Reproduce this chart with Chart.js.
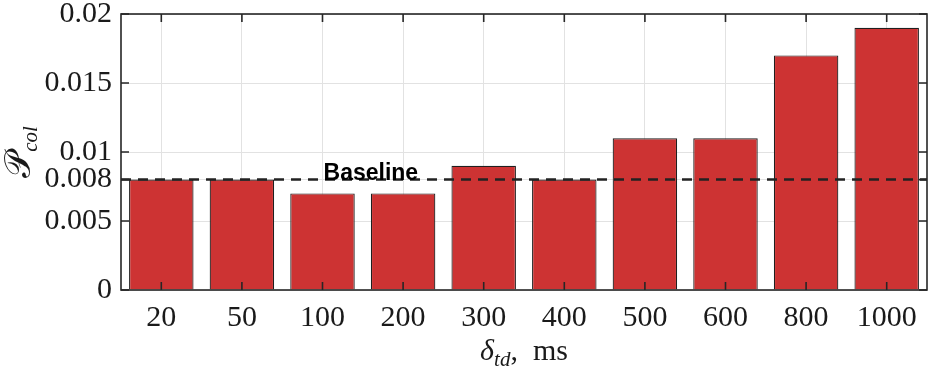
<!DOCTYPE html>
<html>
<head>
<meta charset="utf-8">
<script src="https://cdn.jsdelivr.net/npm/chart.js@4/dist/chart.umd.min.js"></script>
<style>
  html, body { margin: 0; padding: 0; background: #fff; }
  #wrap { width: 937px; height: 367px; }
</style>
</head>
<body>
<div id="wrap"><canvas id="myChart" width="937" height="367"></canvas></div>
<script>
// ---- data
const categories = ['20', '50', '100', '200', '300', '400', '500', '600', '800', '1000'];
const pCol = [0.008, 0.008, 0.007, 0.007, 0.009, 0.008, 0.011, 0.011, 0.017, 0.019];
const yTicks = [0, 0.005, 0.008, 0.01, 0.015, 0.02];
const yTickLabels = ['0', '0.005', '0.008', '0.01', '0.015', '0.02'];
const baseline = 0.008;
const baselineLabel = 'Baseline';

const SERIF = '"Liberation Serif", "DejaVu Serif", serif';
const AXIS = '#262626';

// box, inward ticks, baseline and axis titles
const decorations = {
    id: 'decorations',
    afterDatasetsDraw(chart) {
        const ctx = chart.ctx;
        const a = chart.chartArea;
        const x = chart.scales.x, y = chart.scales.y;

        // dashed baseline
        const yb = y.getPixelForValue(baseline);
        ctx.save();
        ctx.strokeStyle = '#222';
        ctx.lineWidth = 2.5;
        ctx.setLineDash([10, 7]);
        ctx.beginPath();
        ctx.moveTo(a.left, yb);
        ctx.lineTo(a.right, yb);
        ctx.stroke();
        ctx.setLineDash([]);
        ctx.font = 'bold 23px "Liberation Sans", Arial, sans-serif';
        ctx.fillStyle = '#000';
        ctx.textAlign = 'center';
        ctx.textBaseline = 'alphabetic';
        const x2 = x.getPixelForValue(2), x3 = x.getPixelForValue(3);
        ctx.fillText(baselineLabel, x2 + (x3 - x2) * 0.6, yb);
        ctx.restore();

        // box and ticks
        ctx.save();
        ctx.strokeStyle = AXIS;
        ctx.lineWidth = 1.6;
        ctx.strokeRect(a.left, a.top, a.right - a.left, a.bottom - a.top);
        ctx.beginPath();
        const tl = 8;
        categories.forEach((c, i) => {
            const px = x.getPixelForValue(i);
            ctx.moveTo(px, a.bottom); ctx.lineTo(px, a.bottom - tl);
            ctx.moveTo(px, a.top); ctx.lineTo(px, a.top + tl);
        });
        yTicks.forEach(v => {
            const py = y.getPixelForValue(v);
            ctx.moveTo(a.left, py); ctx.lineTo(a.left + tl, py);
            ctx.moveTo(a.right, py); ctx.lineTo(a.right - tl, py);
        });
        ctx.stroke();
        ctx.restore();
    },
    afterDraw(chart) {
        const ctx = chart.ctx;
        const a = chart.chartArea;
        ctx.save();
        ctx.fillStyle = '#1a1a1a';
        ctx.textBaseline = 'alphabetic';

        // x title: delta_td, ms
        const big = 'italic 30px ' + SERIF;
        const sub = 'italic 21px ' + SERIF;
        const rom = '30px ' + SERIF;
        const parts = [['δ', big, 0], ['td', sub, 6], [',  ms', rom, 0]];
        let w = 0;
        parts.forEach(p => { ctx.font = p[1]; w += ctx.measureText(p[0]).width; });
        let cx = (a.left + a.right) / 2 - w / 2;
        parts.forEach(p => {
            ctx.font = p[1];
            ctx.textAlign = 'left';
            ctx.fillText(p[0], cx, 360 + p[2]);
            cx += ctx.measureText(p[0]).width;
        });

        // y title: P_col
        ctx.translate(30, (a.top + a.bottom) / 2);
        ctx.rotate(-Math.PI / 2);
        const yparts = [['𝒫', '36px "DejaVu Serif", "DejaVu Sans", serif', 0], ['col', sub, 7]];
        w = 0;
        yparts.forEach(p => { ctx.font = p[1]; w += ctx.measureText(p[0]).width; });
        cx = -w / 2;
        yparts.forEach(p => {
            ctx.font = p[1];
            ctx.fillText(p[0], cx, p[2]);
            cx += ctx.measureText(p[0]).width;
        });
        ctx.restore();
    }
};

new Chart(document.getElementById('myChart'), {
    type: 'bar',
    data: {
        labels: categories,
        datasets: [{
            data: pCol,
            backgroundColor: '#cd3333',
            borderColor: '#1f1f1f',
            borderWidth: 1.2,
            barPercentage: 1.0,
            categoryPercentage: 0.8
        }]
    },
    options: {
        responsive: false,
        animation: false,
        devicePixelRatio: 1,
        layout: { padding: { top: 14, right: 10, left: 0, bottom: 0 } },
        plugins: {
            legend: { display: false },
            tooltip: { enabled: false }
        },
        scales: {
            x: {
                grid: { color: '#e2e2e2', lineWidth: 1, offset: false, drawTicks: false },
                border: { display: false },
                ticks: {
                    padding: 10,
                    color: '#1a1a1a',
                    font: { family: SERIF, size: 30 }
                },
                afterFit: s => { s.height = 77; s.paddingLeft = 0; s.paddingRight = 0; }
            },
            y: {
                min: 0,
                max: 0.02,
                grid: { color: '#e2e2e2', lineWidth: 1, drawTicks: false },
                border: { display: false },
                afterBuildTicks: s => { s.ticks = yTicks.map(v => ({ value: v })); },
                ticks: {
                    padding: 9,
                    color: '#1a1a1a',
                    font: { family: SERIF, size: 30 },
                    callback: (v) => yTickLabels[yTicks.indexOf(v)] ?? ''
                },
                afterFit: s => { s.width = 121; s.paddingTop = 0; s.paddingBottom = 0; }
            }
        }
    },
    plugins: [decorations]
});
</script>
</body>
</html>
